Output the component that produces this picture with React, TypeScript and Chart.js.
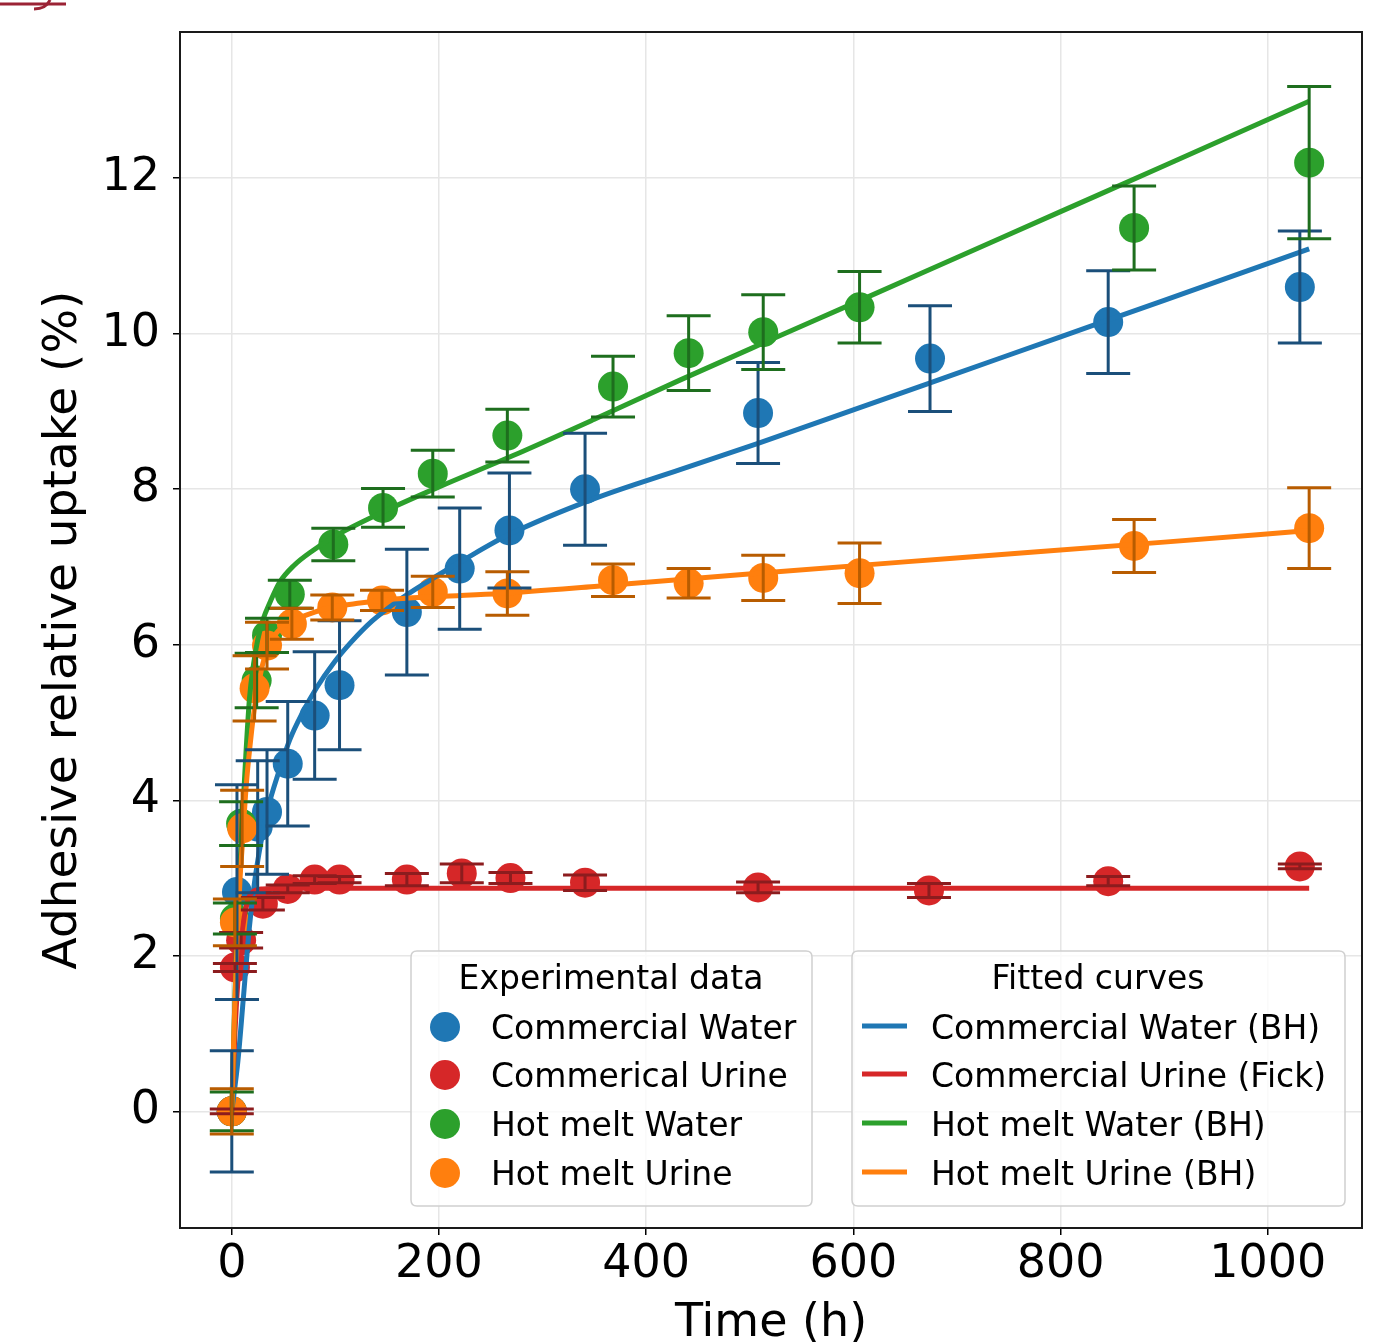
import React, { useEffect, useRef } from 'react';
import { Chart, registerables } from 'chart.js';

Chart.register(...registerables);

// ---- tick labels ----
const xTicks = [0, 200, 400, 600, 800, 1000];
const yTicks = [0, 2, 4, 6, 8, 10, 12];

// ---- experimental data (time h, uptake %, error) ----
const cwT = [0, 5, 25, 34, 54, 80, 104, 169, 220, 268, 341, 508, 674, 846, 1031];
const cwV = [0, 2.82, 3.66, 3.85, 4.47, 5.09, 5.48, 6.42, 6.98, 7.47, 8.0, 8.98, 9.68, 10.15, 10.6];
const cwE = [0.78, 1.38, 0.85, 0.8, 0.8, 0.82, 0.83, 0.81, 0.78, 0.74, 0.72, 0.65, 0.68, 0.66, 0.72];

const cuT = [0, 3, 9, 30, 54, 80, 104, 169, 222, 269, 341, 508, 673, 846, 1031];
const cuV = [0, 1.85, 2.2, 2.67, 2.86, 2.98, 2.98, 2.98, 3.06, 3.0, 2.94, 2.88, 2.84, 2.96, 3.15];
const cuE = [0.03, 0.05, 0.1, 0.08, 0.05, 0.05, 0.04, 0.08, 0.12, 0.07, 0.1, 0.07, 0.09, 0.06, 0.03];

const hwT = [0, 3, 9, 24, 34, 56, 98, 146, 194, 266, 368, 441, 513, 606, 871, 1040];
const hwV = [0, 2.48, 3.7, 5.54, 6.12, 6.65, 7.29, 7.76, 8.2, 8.69, 9.32, 9.75, 10.02, 10.34, 11.36, 12.2];
const hwE = [0.25, 0.2, 0.28, 0.35, 0.22, 0.18, 0.21, 0.25, 0.3, 0.34, 0.39, 0.48, 0.48, 0.46, 0.54, 0.98];

const huT = [0, 3, 10, 22, 34, 58, 97, 145, 194, 266, 368, 441, 513, 606, 871, 1040];
const huV = [0, 2.43, 3.64, 5.44, 5.99, 6.27, 6.48, 6.57, 6.68, 6.66, 6.83, 6.79, 6.86, 6.92, 7.27, 7.5];
const huE = [0.29, 0.3, 0.49, 0.42, 0.3, 0.2, 0.16, 0.13, 0.2, 0.28, 0.21, 0.19, 0.29, 0.39, 0.34, 0.52];

// ---- fitted curves ----
const cwFitT = [0, 6, 11, 17, 22, 28, 35, 45, 56, 68, 82, 98, 115, 135, 160, 190, 225, 268, 350, 432, 508, 600, 700, 800, 900, 1040];
const cwFitV = [0, 0.66, 1.43, 2.37, 2.95, 3.45, 3.9, 4.35, 4.78, 5.12, 5.45, 5.76, 6.03, 6.3, 6.56, 6.82, 7.1, 7.42, 7.88, 8.25, 8.59, 9.02, 9.49, 9.96, 10.43, 11.09];

const cuFitT = [0, 3, 6, 9, 12, 15, 20, 30, 50, 100, 1040];
const cuFitV = [0, 1.0, 1.7, 2.2, 2.5, 2.7, 2.82, 2.86, 2.87, 2.87, 2.87];

const hwFitT = [0, 2, 4, 6, 8, 10, 13, 17, 21, 25, 30, 37, 46, 60, 78, 100, 143, 200, 271, 350, 432, 513, 600, 700, 800, 900, 1040];
const hwFitV = [0, 1.0, 1.9, 2.6, 3.2, 3.7, 4.45, 5.3, 5.75, 6.06, 6.32, 6.55, 6.8, 7.02, 7.21, 7.4, 7.69, 8.03, 8.43, 8.9, 9.4, 9.88, 10.39, 10.98, 11.57, 12.16, 12.99];

const huFitT = [0, 2, 4, 6, 8, 10, 14, 18, 22, 26, 30, 36, 43, 55, 66, 80, 95, 120, 150, 200, 259, 350, 508, 693, 900, 1040];
const huFitV = [0, 1.0, 1.8, 2.45, 3.0, 3.4, 4.2, 4.75, 5.2, 5.5, 5.76, 6.0, 6.15, 6.28, 6.35, 6.42, 6.48, 6.53, 6.58, 6.62, 6.66, 6.75, 6.92, 7.11, 7.32, 7.47];

const expLabels = ['Commercial Water', 'Commerical Urine', 'Hot melt Water', 'Hot melt Urine'];
const fitLabels = ['Commercial Water (BH)', 'Commercial Urine (Fick)', 'Hot melt Water (BH)', 'Hot melt Urine (BH)'];

const COLORS = ['#1f77b4', '#d62728', '#2ca02c', '#ff7f0e'];
const ECOLORS = ['#1b4f7a', '#8c1c1e', '#1e6e1e', '#b85c00'];

const FONT = "'DejaVu Sans', 'Liberation Sans', sans-serif";

export default function App() {
  const ref = useRef<HTMLCanvasElement | null>(null);

  useEffect(() => {
    const canvas = ref.current;
    if (!canvas) return;
    const pts = (t: number[], v: number[]) => t.map((x, i) => ({ x, y: v[i] }));

    const exp = [
      { t: cwT, v: cwV, e: cwE },
      { t: cuT, v: cuV, e: cuE },
      { t: hwT, v: hwV, e: hwE },
      { t: huT, v: huV, e: huE },
    ];
    const fits = [
      { t: cwFitT, v: cwFitV },
      { t: cuFitT, v: cuFitV },
      { t: hwFitT, v: hwFitV },
      { t: huFitT, v: huFitV },
    ];

    const datasets: any[] = [];
    exp.forEach((s, i) => {
      datasets.push({
        type: 'scatter',
        label: expLabels[i],
        data: pts(s.t, s.v),
        pointRadius: 15,
        pointBackgroundColor: COLORS[i],
        pointBorderWidth: 0,
        borderColor: COLORS[i],
        showLine: false,
        order: 8 - i, // later series drawn on top
      });
    });
    fits.forEach((s, i) => {
      datasets.push({
        type: 'line',
        label: fitLabels[i],
        data: pts(s.t, s.v),
        borderColor: COLORS[i],
        borderWidth: 5,
        pointRadius: 0,
        fill: false,
        cubicInterpolationMode: 'monotone',
        order: 4 - i,
      });
    });

    const errorBars = {
      id: 'errorBars',
      afterDatasetsDraw(chart: any) {
        const { ctx } = chart;
        const xs = chart.scales.x;
        const ys = chart.scales.y;
        ctx.save();
        ctx.lineWidth = 3;
        ctx.lineCap = 'butt';
        exp.forEach((s, si) => {
          ctx.strokeStyle = ECOLORS[si];
          s.t.forEach((t, i) => {
            const px = xs.getPixelForValue(t);
            const top = ys.getPixelForValue(s.v[i] + s.e[i]);
            const bot = ys.getPixelForValue(s.v[i] - s.e[i]);
            ctx.beginPath();
            ctx.moveTo(px, top);
            ctx.lineTo(px, bot);
            ctx.moveTo(px - 22, top);
            ctx.lineTo(px + 22, top);
            ctx.moveTo(px - 22, bot);
            ctx.lineTo(px + 22, bot);
            ctx.stroke();
          });
        });
        ctx.restore();
      },
    };

    const roundRect = (ctx: CanvasRenderingContext2D, x: number, y: number, w: number, h: number, r: number) => {
      ctx.beginPath();
      ctx.moveTo(x + r, y);
      ctx.lineTo(x + w - r, y);
      ctx.quadraticCurveTo(x + w, y, x + w, y + r);
      ctx.lineTo(x + w, y + h - r);
      ctx.quadraticCurveTo(x + w, y + h, x + w - r, y + h);
      ctx.lineTo(x + r, y + h);
      ctx.quadraticCurveTo(x, y + h, x, y + h - r);
      ctx.lineTo(x, y + r);
      ctx.quadraticCurveTo(x, y, x + r, y);
      ctx.closePath();
    };

    const frameAndLegend = {
      id: 'frameAndLegend',
      afterDraw(chart: any) {
        const { ctx, chartArea } = chart;
        ctx.save();
        // frame
        ctx.strokeStyle = '#1a1a1a';
        ctx.lineWidth = 2;
        ctx.strokeRect(chartArea.left, chartArea.top, chartArea.right - chartArea.left, chartArea.bottom - chartArea.top);

        const rows = [1030, 1078, 1127, 1176];
        ctx.font = `33px ${FONT}`;
        ctx.textBaseline = 'middle';

        // legend 1
        roundRect(ctx, 411, 951, 401, 255, 6);
        ctx.fillStyle = 'rgba(255,255,255,0.8)';
        ctx.fill();
        ctx.strokeStyle = '#d0d0d0';
        ctx.lineWidth = 1.5;
        ctx.stroke();
        ctx.fillStyle = '#000';
        ctx.textAlign = 'center';
        ctx.fillText('Experimental data', 611, 980);
        ctx.textAlign = 'left';
        expLabels.forEach((lab, i) => {
          ctx.fillStyle = COLORS[i];
          ctx.beginPath();
          ctx.arc(445, rows[i] - 3, 15, 0, Math.PI * 2);
          ctx.fill();
          ctx.fillStyle = '#000';
          ctx.fillText(lab, 491, rows[i]);
        });

        // legend 2
        roundRect(ctx, 852, 951, 493, 255, 6);
        ctx.fillStyle = 'rgba(255,255,255,0.8)';
        ctx.fill();
        ctx.strokeStyle = '#d0d0d0';
        ctx.lineWidth = 1.5;
        ctx.stroke();
        ctx.fillStyle = '#000';
        ctx.textAlign = 'center';
        ctx.fillText('Fitted curves', 1098, 980);
        ctx.textAlign = 'left';
        fitLabels.forEach((lab, i) => {
          ctx.strokeStyle = COLORS[i];
          ctx.lineWidth = 5;
          ctx.beginPath();
          ctx.moveTo(862, rows[i] - 4);
          ctx.lineTo(907, rows[i] - 4);
          ctx.stroke();
          ctx.fillStyle = '#000';
          ctx.fillText(lab, 931, rows[i]);
        });

        // small cropped mark at the top-left corner
        ctx.strokeStyle = '#9b2335';
        ctx.lineWidth = 3;
        ctx.beginPath();
        ctx.moveTo(0, 4);
        ctx.lineTo(66, 4);
        ctx.stroke();
        ctx.beginPath();
        ctx.moveTo(34, 9);
        ctx.quadraticCurveTo(46, 9, 50, 0);
        ctx.stroke();
        ctx.restore();
      },
    };

    const chart = new Chart(canvas, {
      type: 'scatter',
      data: { datasets },
      plugins: [errorBars, frameAndLegend],
      options: {
        animation: false,
        responsive: false,
        maintainAspectRatio: false,
        devicePixelRatio: 1,
        events: [],
        layout: { padding: { top: 32, right: 22, left: 0, bottom: 0 } },
        plugins: { legend: { display: false }, tooltip: { enabled: false }, title: { display: false } },
        scales: {
          x: {
            type: 'linear',
            min: -50,
            max: 1091,
            afterBuildTicks: (s: any) => { s.ticks = xTicks.map((v) => ({ value: v })); },
            afterFit: (s: any) => { s.height = 114; },
            ticks: {
              font: { size: 46, family: FONT },
              color: '#000',
              padding: 2,
              maxRotation: 0,
              autoSkip: false,
              callback: (v: any) => String(v),
            },
            grid: { color: '#e6e6e6', lineWidth: 1.5, tickColor: '#000', tickLength: 7, tickWidth: 1.5 },
            border: { display: false },
            title: {
              display: true,
              text: 'Time (h)',
              color: '#000',
              font: { size: 46, family: FONT, lineHeight: 0.8 },
              padding: { top: 0, bottom: 0 },
            },
          },
          y: {
            type: 'linear',
            min: -1.5,
            max: 13.88,
            afterBuildTicks: (s: any) => { s.ticks = yTicks.map((v) => ({ value: v })); },
            afterFit: (s: any) => { s.width = 180; },
            ticks: {
              font: { size: 46, family: FONT, lineHeight: 0.6 },
              color: '#000',
              padding: 13,
              autoSkip: false,
              callback: (v: any) => String(v),
            },
            grid: { color: '#e6e6e6', lineWidth: 1.5, tickColor: '#000', tickLength: 7, tickWidth: 1.5 },
            border: { display: false },
            title: {
              display: true,
              text: 'Adhesive relative uptake (%)',
              color: '#000',
              font: { size: 47, family: FONT, lineHeight: 1.2 },
              padding: { top: 36, bottom: 0 },
            },
          },
        },
      } as any,
    });

    return () => chart.destroy();
  }, []);

  return (
    <div style={{ position: 'absolute', left: 0, top: 0, width: 1384, height: 1342, background: '#fff' }}>
      <canvas ref={ref} width={1384} height={1342} style={{ width: 1384, height: 1342, display: 'block' }} />
    </div>
  );
}
